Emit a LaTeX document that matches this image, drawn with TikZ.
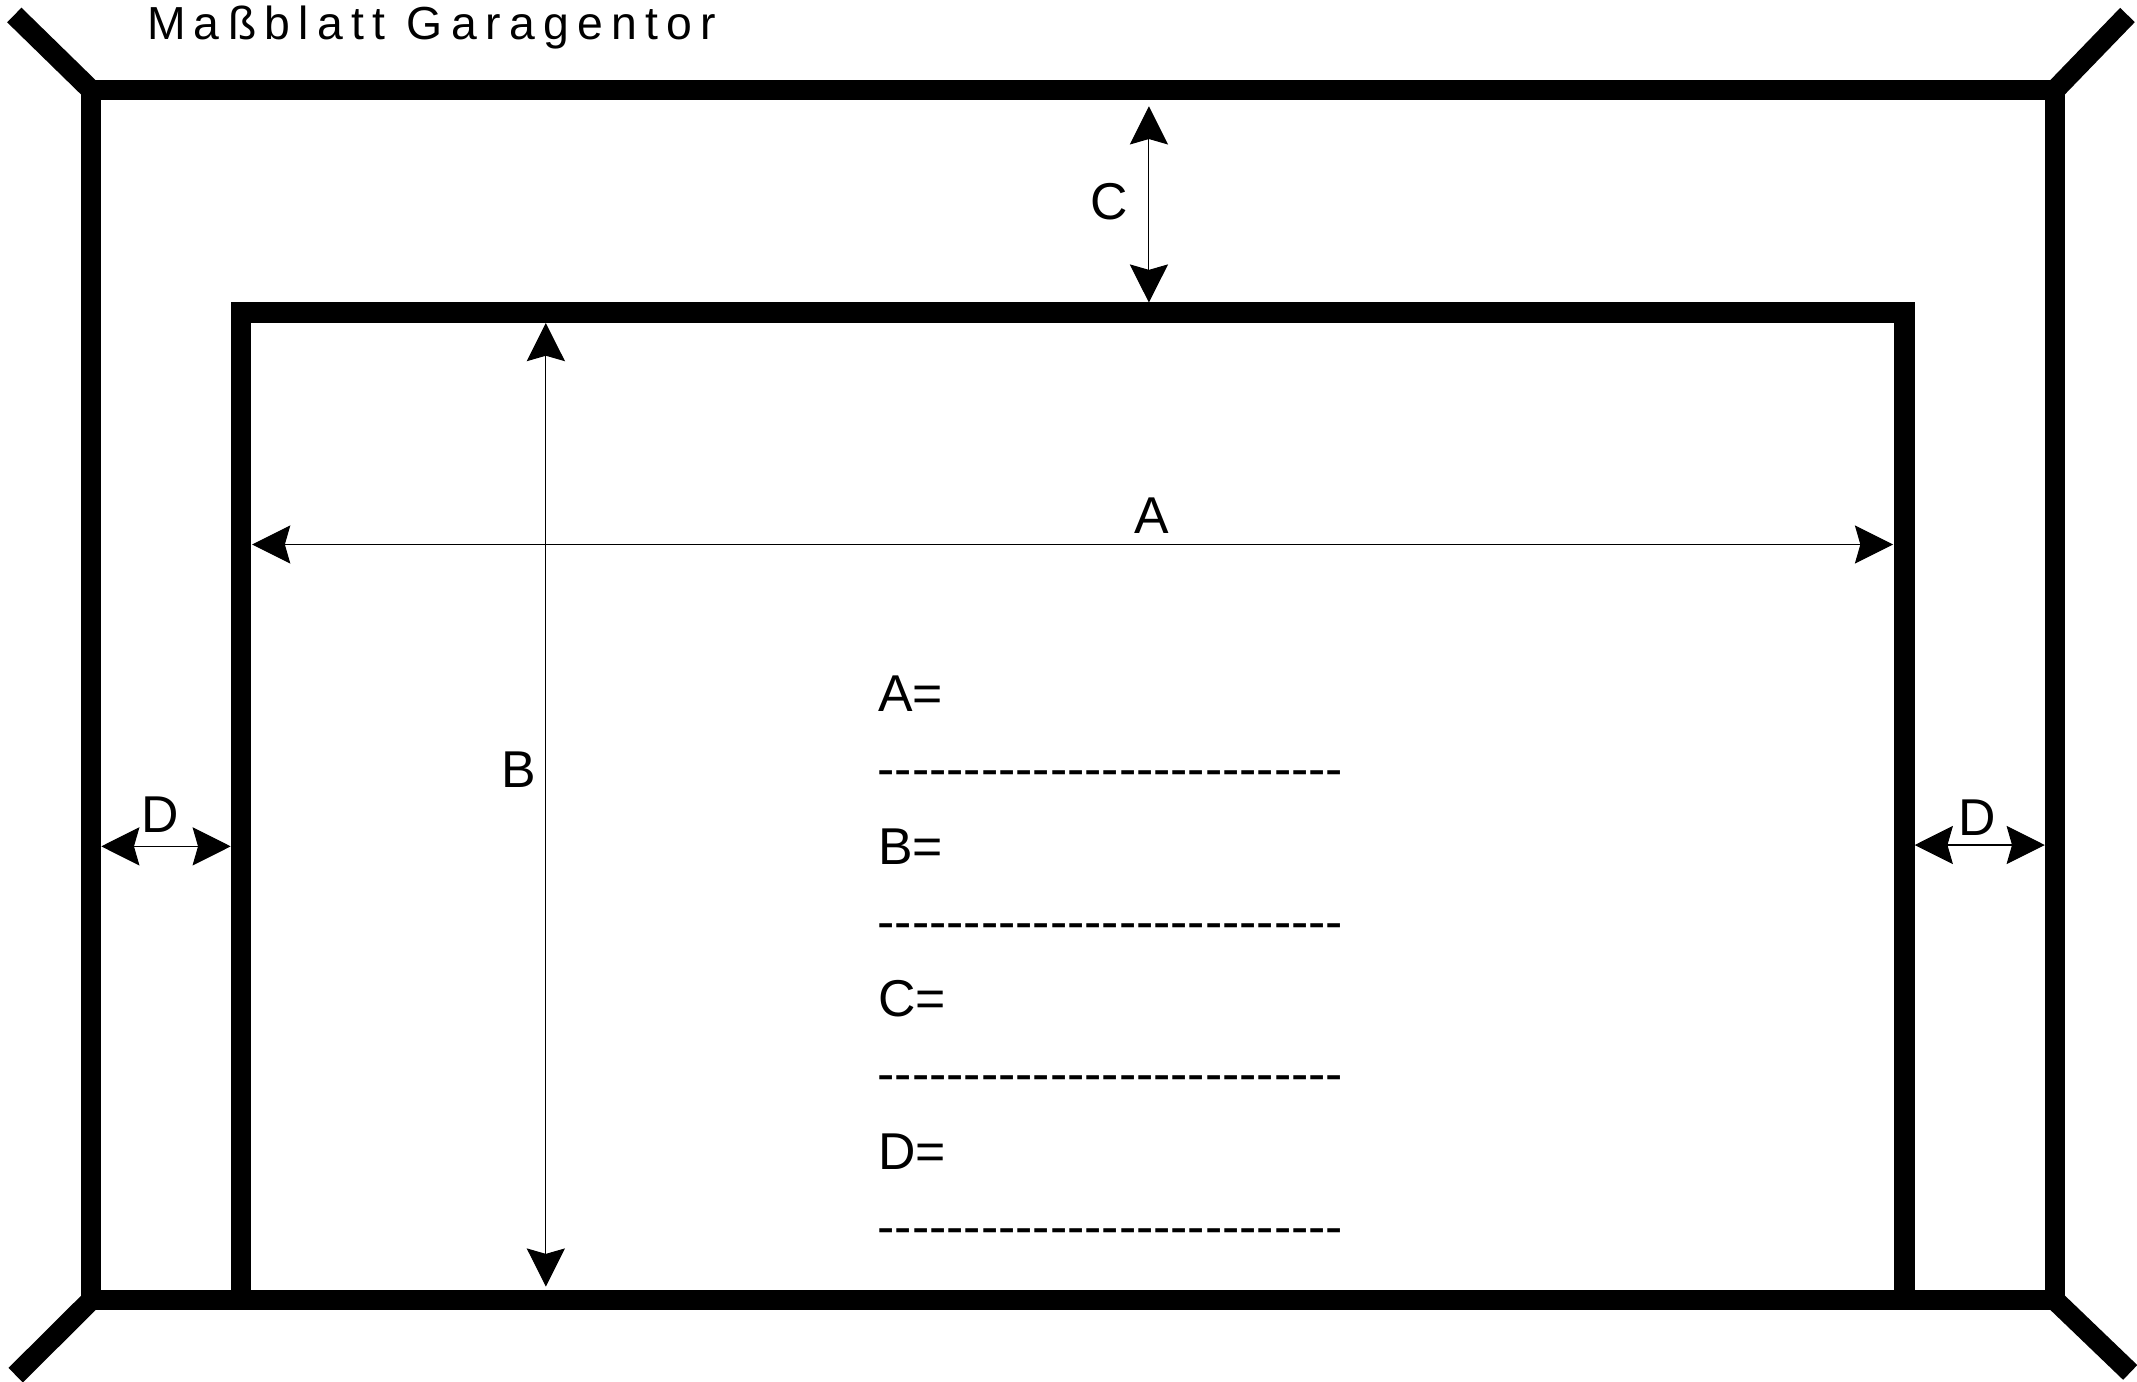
\documentclass[tikz,border=0pt]{standalone}
\usepackage{fontspec}
\setmainfont{Liberation Sans}
\newfontfamily\titlefont{Liberation Sans}[LetterSpace=18]
\usetikzlibrary{arrows.meta}
\newcommand\hyfive{-{}-{}-{}-{}-{}}
\newcommand\hyrow{\hyfive\hyfive\hyfive\hyfive\hyfive-{}-}
\begin{document}
\begin{tikzpicture}[x=0.5pt,y=-0.5pt,
  frame/.style={line width=7.5pt, line join=miter},
  diag/.style={line width=7.5pt, line cap=butt},
  dim/.style={line width=0.4pt, {Stealth[length=14pt,width=14pt,inset=2pt]}-{Stealth[length=14pt,width=14pt,inset=2pt]}},
  lab/.style={inner sep=0pt, font=\fontsize{19pt}{22pt}\selectfont},
  txt/.style={inner sep=0pt, anchor=base west, font=\fontsize{19pt}{22pt}\selectfont}]
\useasboundingbox (0,0) rectangle (1568,1014);
% frame corners
\coordinate (oTL) at (66.8,66);
\coordinate (oTR) at (1507.8,66);
\coordinate (oBR) at (1507.8,954);
\coordinate (oBL) at (66.8,954);
\coordinate (eTL) at (10.5,11);
\coordinate (eTR) at (1561,11);
\coordinate (eBL) at (11.5,1009);
\coordinate (eBR) at (1563,1007);
\coordinate (iBL) at (176.8,954);
\coordinate (iTL) at (176.8,229.4);
\coordinate (iTR) at (1397.4,229.4);
\coordinate (iBR) at (1397.4,954);
\draw[frame] (oTL) rectangle (oBR);
\draw[frame] (iBL) -- (iTL) -- (iTR) -- (iBR);
\draw[diag] (oTL) -- (eTL);
\draw[diag] (oTR) -- (eTR);
\draw[diag] (oBL) -- (eBL);
\draw[diag] (oBR) -- (eBR);
% dimensions
\coordinate (cT) at (843,78);
\coordinate (cB) at (843,222);
\coordinate (aL) at (185,399.5);
\coordinate (aR) at (1389,399.5);
\coordinate (bT) at (400.5,237);
\coordinate (bB) at (400.5,944);
\coordinate (dlL) at (74.3,621);
\coordinate (dlR) at (169.3,621);
\coordinate (drL) at (1404.9,620);
\coordinate (drR) at (1500.3,620);
\draw[dim] (cT) -- (cB);
\draw[dim] (aL) -- (aR);
\draw[dim] (bT) -- (bB);
\draw[dim] (dlL) -- (dlR);
\draw[dim] (drL) -- (drR);
\node[lab] (labC) at (814,148) {C};
\node[lab] (labA) at (845,378) {A};
\node[lab] (labB) at (381,565) {B};
\node[lab] (labDl) at (117.5,598) {D};
\node[lab] (labDr) at (1451,600) {D};
% title
\node[anchor=base west, inner sep=0pt, font=\titlefont\fontsize{17pt}{20pt}\selectfont] (title) at (107.5,29) {Maßblatt Garagentor};
% text block
\node[txt] (tA) at (644,522) {A=};
\node[txt] (h1) at (643.5,577) {\hyrow};
\node[txt] (tB) at (644,634) {B=};
\node[txt] (h2) at (643.5,689) {\hyrow};
\node[txt] (tC) at (644,746) {C=};
\node[txt] (h3) at (643.5,801) {\hyrow};
\node[txt] (tD) at (644,858) {D=};
\node[txt] (h4) at (643.5,913) {\hyrow};
\end{tikzpicture}
\end{document}
